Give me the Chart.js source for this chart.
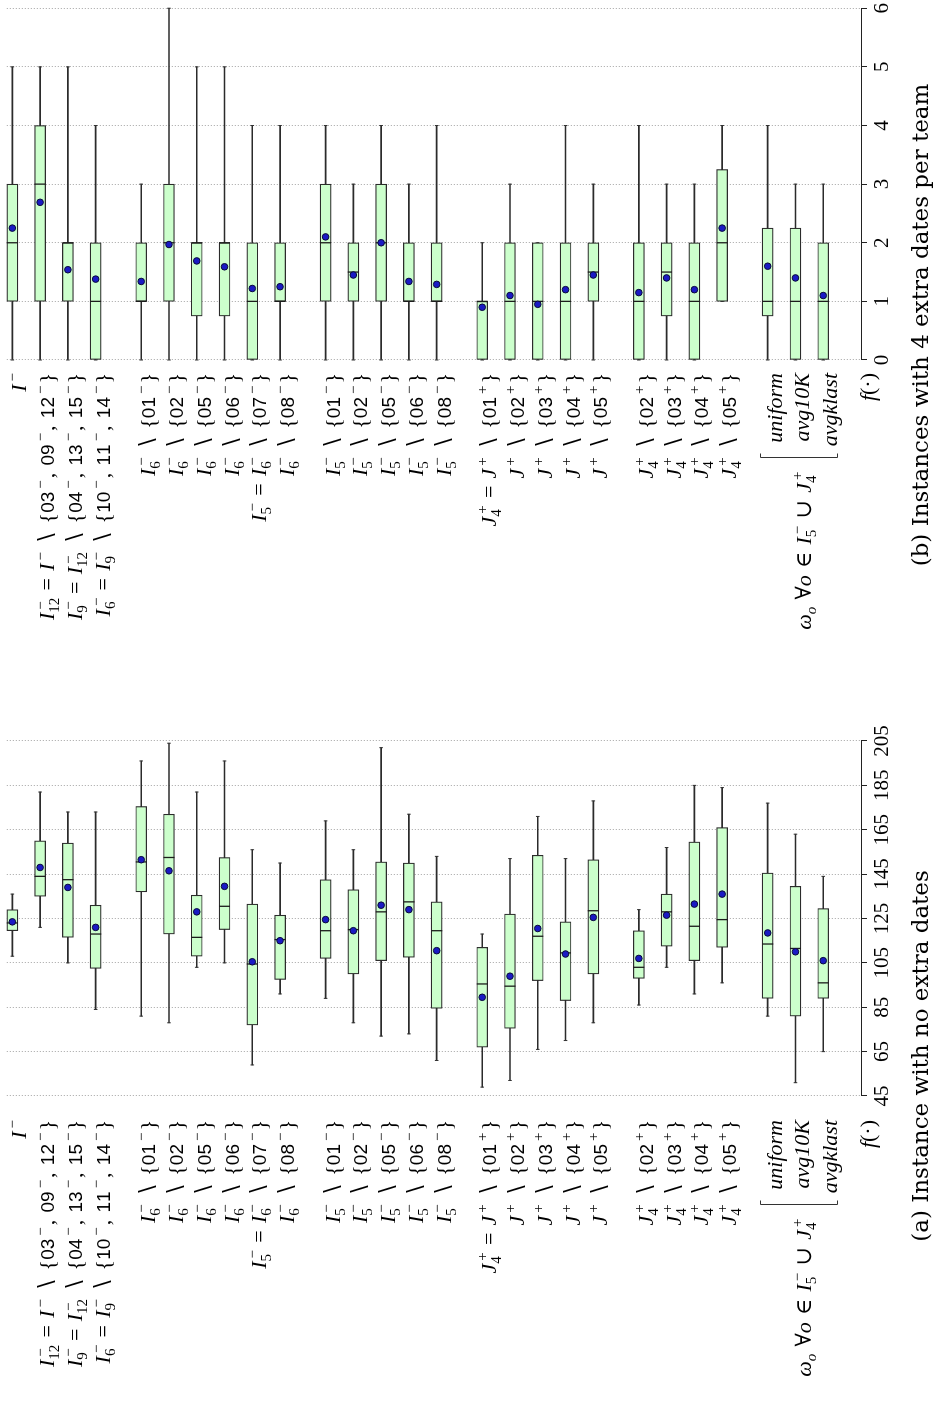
<!DOCTYPE html>
<html>
<head>
<meta charset="utf-8">
<script src="https://cdn.jsdelivr.net/npm/chart.js@4.4.1/dist/chart.umd.min.js"></script>
<style>
  html, body { margin: 0; padding: 0; background: #fff; overflow: hidden; }
  /* the figure is a landscape page turned a quarter turn */
  #page {
    position: absolute; left: 0; top: 0; width: 1401px; height: 933px;
    transform-origin: 0 0; transform: translate(0, 1401px) rotate(-90deg);
  }
  #page canvas { position: absolute; top: 0; }
  #chartA { left: 0; }
  #chartB { left: 700px; }
</style>
</head>
<body>
<div id="page">
  <canvas id="chartA" width="700" height="933"></canvas>
  <canvas id="chartB" width="701" height="933"></canvas>
</div>
<script>
const SERIF = "'Liberation Serif', 'DejaVu Serif', serif";
const SANS = "'Liberation Sans', 'DejaVu Sans', sans-serif";
const CAPTION = "'DejaVu Serif', serif";

// Categories (same for both panels), _ = subscript, ^ = superscript, * = all italic
const categories = [
    'I^−',
    'I_12^− = I^− ∖ {03^−, 09^−, 12^−}',
    'I_9^− = I_12^− ∖ {04^−, 13^−, 15^−}',
    'I_6^− = I_9^− ∖ {10^−, 11^−, 14^−}',
    'I_6^− ∖ {01^−}',
    'I_6^− ∖ {02^−}',
    'I_6^− ∖ {05^−}',
    'I_6^− ∖ {06^−}',
    'I_5^− = I_6^− ∖ {07^−}',
    'I_6^− ∖ {08^−}',
    'I_5^− ∖ {01^−}',
    'I_5^− ∖ {02^−}',
    'I_5^− ∖ {05^−}',
    'I_5^− ∖ {06^−}',
    'I_5^− ∖ {08^−}',
    'J_4^+ = J^+ ∖ {01^+}',
    'J^+ ∖ {02^+}',
    'J^+ ∖ {03^+}',
    'J^+ ∖ {04^+}',
    'J^+ ∖ {05^+}',
    'J_4^+ ∖ {02^+}',
    'J_4^+ ∖ {03^+}',
    'J_4^+ ∖ {04^+}',
    'J_4^+ ∖ {05^+}',
    '*uniform',
    '*avg10K',
    '*avgklast'
];
const groupSizes = [4, 6, 5, 5, 4, 3];
const groupLabel = 'ω_o ∀o ∈ I_5^− ∪ J_4^+';
const axisLabel = 'f(·)';

// (a) Instance with no extra dates
const loA   = [108, 121, 105, 84, 81, 78, 103, 105, 59, 91, 89, 78, 72, 73, 61, 49, 52, 66, 70, 78, 86, 103, 91, 96, 81, 51, 65];
const q1A   = [119.5, 135, 116.5, 102.5, 137, 118, 108, 120, 77, 97.5, 107, 100, 106, 107.5, 84.5, 67, 75.5, 97, 88, 100, 98, 112.5, 106, 112, 89, 81, 89];
const medA  = [123, 144, 142.5, 118, 150.5, 152.5, 116.5, 130.5, 104.5, 115.5, 119.5, 120, 128, 132.5, 119.5, 95.5, 94.5, 117, 109.5, 128.5, 103, 128, 121.5, 124.5, 113.5, 111.5, 96];
const q3A   = [129, 160, 159, 131, 175.5, 172, 135.5, 152.5, 131.5, 126.5, 142.5, 138, 150.5, 150, 132.5, 112, 127, 153.5, 123.5, 151.5, 119.5, 136, 159.5, 166, 145.5, 139.5, 129.5];
const hiA   = [136, 182, 173, 173, 196, 204, 182, 196, 156, 150, 169, 156, 202, 172, 153, 118, 152, 171, 152, 178, 129, 157, 185, 184, 177, 163, 144];
const meanA = [123.5, 148, 139, 121, 151.5, 146.5, 128, 139.5, 105.5, 115, 124.5, 119.5, 131, 129, 110.5, 89.5, 99, 120.5, 109, 125.5, 107, 126.5, 131.5, 136, 118.5, 110, 106];
const ticksA = { min: 45, max: 205, step: 20 };

// (b) Instances with 4 extra dates per team
const loB   = [0, 0, 0, 0, 0, 0, 0, 0, 0, 0, 0, 0, 0, 0, 0, 0, 0, 0, 0, 0, 0, 0, 0, 1, 0, 0, 0];
const q1B   = [1, 1, 1, 0, 1, 1, 0.75, 0.75, 0, 1, 1, 1, 1, 1, 1, 0, 0, 0, 0, 1, 0, 0.75, 0, 1, 0.75, 0, 0];
const medB  = [2, 3, 2, 1, 1, 2, 2, 2, 1, 1, 2, 1.5, 2, 1, 1, 1, 1, 1, 1, 1.5, 1, 1.5, 1, 2, 1, 1, 1];
const q3B   = [3, 4, 2, 2, 2, 3, 2, 2, 2, 2, 3, 2, 3, 2, 2, 1, 2, 2, 2, 2, 2, 2, 2, 3.25, 2.25, 2.25, 2];
const hiB   = [5, 5, 5, 4, 3, 6, 5, 5, 4, 4, 4, 3, 4, 3, 4, 2, 3, 2, 4, 3, 4, 3, 3, 4, 4, 3, 3];
const meanB = [2.25, 2.69, 1.54, 1.38, 1.34, 1.97, 1.69, 1.59, 1.22, 1.25, 2.1, 1.45, 2.0, 1.34, 1.29, 0.9, 1.1, 0.95, 1.2, 1.45, 1.15, 1.4, 1.2, 2.25, 1.6, 1.4, 1.1];
const ticksB = { min: 0, max: 6, step: 1 };

// row positions: one unit per box, a wider gap between groups
const positions = [];
let pos = 0;
groupSizes.forEach(n => {
    for (let k = 0; k < n; k++) positions.push(pos + k);
    pos += n - 1 + 1.64;
});

// --- tiny rich-text renderer for the math labels ---
const BASE = 22, SCRIPT = 15;

function fontFor(kind, level) {
    const size = level ? SCRIPT : BASE;
    if (kind === 'it') return `italic ${size}px ${SERIF}`;
    if (kind === 'sf') return `${size - 3}px ${SANS}`;
    return `${size}px ${SERIF}`;
}

function kindOf(ch, level, all) {
    if (all || /[A-Za-zω]/.test(ch)) return 'it';
    if (/[0-9]/.test(ch)) return level ? 'rm' : 'sf';
    return 'rm';
}

function tokens(src) {
    const all = src[0] === '*';
    if (all) src = src.slice(1);
    const out = [];
    let i = 0;
    while (i < src.length) {
        const c = src[i];
        if (c === '_') {
            let j = i + 1;
            while (j < src.length && /[0-9a-z]/.test(src[j])) j++;
            out.push({ text: src.slice(i + 1, j), level: -1 });
            i = j;
        } else if (c === '^') {
            out.push({ text: src[i + 1], level: 1 });
            i += 2;
        } else {
            out.push({ text: c, level: 0 });
            i++;
        }
    }
    return { all, out };
}

function layoutRich(ctx, src) {
    const { all, out } = tokens(src);
    const items = [];
    let x = 0, prev = null, base = null, stackStart = 0;
    out.forEach(tok => {
        let start = x;
        if (tok.level && prev && prev.level && prev.level !== tok.level) {
            start = stackStart;
        } else if (tok.level) {
            stackStart = x;
            base = prev;
        }
        // italic correction for superscripts, room after digits
        if (tok.level === 1 && base) {
            if (/[A-Za-z]/.test(base.text)) start += 3;
            else if (/[0-9]/.test(base.text)) start += 3;
        }
        let cx = start;
        for (const ch of tok.text) {
            if (ch === ' ') { cx += BASE * 0.33; continue; }
            const font = fontFor(kindOf(ch, tok.level, all), tok.level);
            ctx.font = font;
            items.push({ ch, font, x: cx, dy: tok.level === 1 ? -9 : tok.level === -1 ? 5 : 0 });
            cx += ctx.measureText(ch).width;
        }
        x = Math.max(x, cx);
        if (tok.level === 1 && base && /[0-9]/.test(base.text)) x += 2;
        prev = tok;
    });
    return { items, width: x };
}

function drawRich(ctx, src, xRight, yMid) {
    const { items, width } = layoutRich(ctx, src);
    const x0 = xRight - width;
    const base = yMid + 6;
    ctx.textAlign = 'left';
    ctx.textBaseline = 'alphabetic';
    items.forEach(it => {
        ctx.font = it.font;
        ctx.fillText(it.ch, x0 + it.x, base + it.dy);
    });
}

// category labels, bracket, f(.) and caption
const labelPlugin = {
    id: 'labels',
    afterDraw(chart, args, o) {
        const ctx = chart.ctx, ys = chart.scales.y, area = chart.chartArea;
        const right = area.left - o.gap;
        const rowY = i => ys.getPixelForValue(positions[i]) + 8;
        const n = categories.length;
        ctx.save();
        ctx.fillStyle = '#000';
        categories.forEach((lab, i) => drawRich(ctx, lab, right, rowY(i)));

        const wMax = Math.max(...categories.slice(n - 3).map(l => layoutRich(ctx, l).width));
        const bx = Math.round(right - wMax - 12) + 0.5;
        const top = Math.round(ys.getPixelForValue(positions[n - 3]) - 8) + 0.5;
        const bot = Math.round(ys.getPixelForValue(positions[n - 1]) + 14) + 0.5;
        ctx.strokeStyle = '#333';
        ctx.lineWidth = 1;
        ctx.beginPath();
        ctx.moveTo(bx + 4, top); ctx.lineTo(bx, top); ctx.lineTo(bx, bot); ctx.lineTo(bx + 4, bot);
        ctx.stroke();
        drawRich(ctx, groupLabel, bx - 14, rowY(n - 2) + 2);

        drawRich(ctx, axisLabel, right, area.bottom + 8);

        ctx.font = `23px ${CAPTION}`;
        ctx.textAlign = 'center';
        ctx.textBaseline = 'alphabetic';
        ctx.fillText(o.caption, o.captionX, 928);
        ctx.restore();
    }
};

function boxPlot(id, lo, q1, med, q3, hi, mean, t, pad, opts) {
    const pts = arr => arr.map((v, i) => ({ x: v, y: positions[i] }));
    const span = (a, b) => a.map((v, i) => ({ x: [v, b[i]], y: positions[i] }));
    return new Chart(document.getElementById(id), {
        type: 'bar',
        data: {
            datasets: [
                { type: 'scatter', data: pts(mean), order: 0, clip: false,
                  pointStyle: 'circle', pointRadius: 3.3, backgroundColor: '#1a1ac4', borderColor: '#0b0b3a', borderWidth: 1 },
                { type: 'scatter', data: pts(med), order: 1, clip: false,
                  pointStyle: 'line', pointRotation: 90, pointRadius: 5.5, borderColor: '#1c1c1c', borderWidth: 1.3 },
                { data: span(q1, q3), order: 2, clip: false, grouped: false, barThickness: 11,
                  backgroundColor: '#ccffcc', borderColor: '#2b2b2b', borderWidth: 1.2, borderSkipped: false },
                { type: 'scatter', data: pts(lo).concat(pts(hi)), order: 3, clip: false,
                  pointStyle: 'line', pointRotation: 90, pointRadius: 1.8, borderColor: '#333', borderWidth: 1 },
                { data: span(lo, hi), order: 4, clip: false, grouped: false, barThickness: 1,
                  backgroundColor: '#2b2b2b', borderWidth: 0 }
            ]
        },
        options: {
            indexAxis: 'y',
            responsive: false,
            animation: false,
            events: [],
            layout: { padding: pad },
            scales: {
                x: {
                    type: 'linear', position: 'bottom', min: t.min, max: t.max,
                    ticks: { stepSize: t.step, color: '#000', padding: 3, font: { family: SERIF, size: 21 } },
                    grid: { color: '#a3a3a3', lineWidth: 1, tickLength: 6, tickColor: '#222', tickBorderDash: [] },
                    border: { display: true, color: '#222', width: 1, dash: [1, 2] },
                    afterFit: s => { s.height = 72; }
                },
                y: {
                    type: 'linear', reverse: true, min: -0.2, max: 30.56, display: false,
                    offset: false, grid: { offset: false }
                }
            },
            plugins: {
                legend: { display: false },
                tooltip: { enabled: false },
                labels: opts
            }
        },
        plugins: [labelPlugin]
    });
}

document.addEventListener('DOMContentLoaded', () => {
    boxPlot('chartA', loA, q1A, medA, q3A, hiA, meanA, ticksA,
        { left: 305, right: 40, top: 6, bottom: 0 },
        { gap: 24, caption: '(a) Instance with no extra dates', captionX: 345 });
    boxPlot('chartB', loB, q1B, medB, q3B, hiB, meanB, ticksB,
        { left: 341, right: 5, top: 6, bottom: 0 },
        { gap: 13, caption: '(b) Instances with 4 extra dates per team', captionX: 376 });
});
</script>
</body>
</html>
